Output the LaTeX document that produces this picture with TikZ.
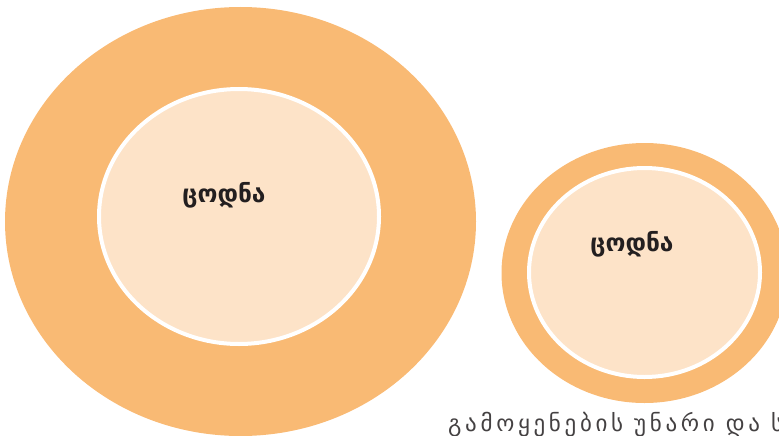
\documentclass[tikz,border=0pt]{standalone}
\usepackage{fontspec}
\newfontfamily\geofont{DejaVu Sans}
\newfontfamily\geospaced[LetterSpace=16]{DejaVu Sans}
\definecolor{ringorange}{HTML}{F9BA74}
\definecolor{corepeach}{HTML}{FDE3C8}
\definecolor{inkdark}{HTML}{231F20}
\begin{document}
\begin{tikzpicture}[x=1pt,y=-1pt,
  ring/.style={fill=ringorange,draw=none},
  core/.style={fill=corepeach,draw=white,line width=4pt},
  label/.style={font=\geofont\bfseries\fontsize{24.5}{28}\selectfont,text=inkdark,inner sep=0pt}]
\useasboundingbox (0,0) rectangle (779,436);
\clip (0,0) rectangle (779,436);
% large pair of ellipses
\fill[ring] (240.5,221.5) ellipse [x radius=235.5, y radius=214.5];
\draw[core] (239,216.5) ellipse [x radius=140, y radius=127.5];
\node[label] (k1) at (224,195) {ცოდნა};
% small pair of ellipses
\fill[ring] (644.5,273) ellipse [x radius=143, y radius=130];
\draw[core] (644.5,272.5) ellipse [x radius=115.5, y radius=104.5];
\node[label] (k2) at (632,244) {ცოდნა};
% caption running off the right edge
\node[anchor=base west,inner sep=0pt,text=inkdark!85,font=\geospaced\fontsize{23}{26}\selectfont] (cap) at (448,431) {გამოყენების უნარი და სა};
\end{tikzpicture}
\end{document}
